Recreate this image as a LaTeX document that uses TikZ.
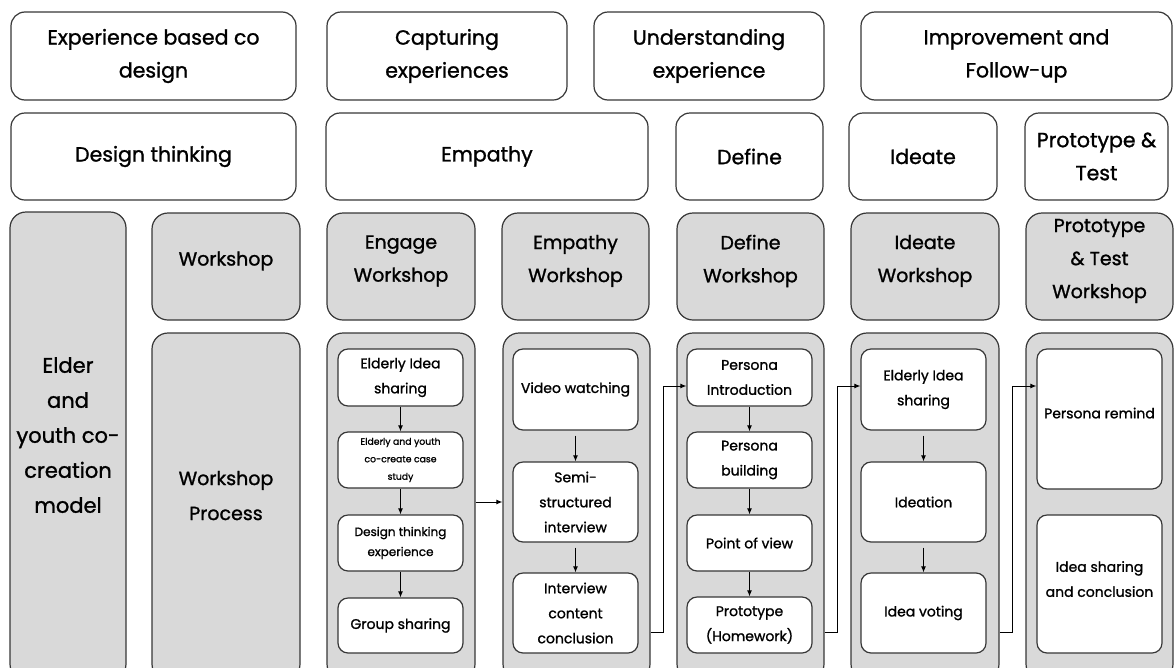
\documentclass[tikz,border=0pt]{standalone}
\usepackage{fontspec}
\setmainfont{Poppins}[FakeBold=1.2]
\usetikzlibrary{arrows.meta}

\definecolor{boxgray}{RGB}{217,217,217}
\definecolor{edgegray}{RGB}{55,55,55}

\tikzset{
  base/.style={draw=edgegray, line width=1.2pt, align=center, inner sep=1pt},
  topbox/.style={base, fill=white, rounded corners=14pt, font=\fontsize{20.5}{33}\selectfont},
  graybox/.style={base, fill=boxgray, rounded corners=16pt, font=\fontsize{19}{33}\selectfont},
  stepbox/.style={base, fill=white, rounded corners=10pt, minimum width=125, font=\fontsize{14}{25}\selectfont},
  flow/.style={black, line width=1pt, -{Latex[length=6pt,width=5pt]}},
}

\begin{document}
\begin{tikzpicture}[x=1pt, y=-1pt]
\useasboundingbox (0,0) rectangle (1174,667);

% top row: experience based co design
\node[topbox, minimum width=285, minimum height=88] (ebcd) at (153.5,56) {Experience based co\\design};
\node[topbox, minimum width=240, minimum height=88] (capt) at (447,56) {Capturing\\experiences};
\node[topbox, minimum width=230, minimum height=88] (unde) at (709,56) {Understanding\\experience};
\node[topbox, minimum width=311, minimum height=88] (impr) at (1016.5,56) {Improvement and\\Follow-up};

% second row: design thinking
\node[topbox, minimum width=285, minimum height=87] (dt) at (153.5,156.5) {Design thinking};
\node[topbox, minimum width=322, minimum height=87] (emp) at (487,156.5) {Empathy};
\node[topbox, minimum width=147, minimum height=87] (def) at (749.5,156.5) {Define};
\node[topbox, minimum width=148, minimum height=87] (ide) at (923,156.5) {Ideate};
\node[topbox, minimum width=143, minimum height=87] (pt) at (1096.5,156.5) {Prototype \&\\Test};

% co-creation model
\node[graybox, minimum width=116, minimum height=468, text depth=22pt,
      font=\fontsize{21}{35}\selectfont] (elder) at (68,446) {Elder\\and\\youth co-\\creation\\model};

% workshops
\begin{scope}[every node/.append style={text depth=16pt}]
\node[graybox, minimum width=148, minimum height=107] (ws) at (226,266.5) {Workshop};
\node[graybox, minimum width=148, minimum height=107] (ew) at (401,266.5) {Engage\\Workshop};
\node[graybox, minimum width=147, minimum height=107] (mw) at (575.5,266.5) {Empathy\\Workshop};
\node[graybox, minimum width=147, minimum height=107] (dw) at (750.5,266.5) {Define\\Workshop};
\node[graybox, minimum width=148, minimum height=107] (iw) at (925,266.5) {Ideate\\Workshop};
\node[graybox, minimum width=147, minimum height=107] (pw) at (1099.5,266.5) {Prototype\\\& Test\\Workshop};
\end{scope}

% workshop process
\node[graybox, minimum width=148, minimum height=347, text depth=22pt,
      font=\fontsize{19}{35}\selectfont] (wp) at (226,506.5) {Workshop\\Process};
\node[graybox, minimum width=148, minimum height=347] (ep) at (401,506.5) {};
\node[graybox, minimum width=147, minimum height=347] (mp) at (576.5,506.5) {};
\node[graybox, minimum width=147, minimum height=347] (dp) at (750.5,506.5) {};
\node[graybox, minimum width=148, minimum height=347] (ip) at (925,506.5) {};
\node[graybox, minimum width=147, minimum height=347] (pp) at (1099.5,506.5) {};

% engage steps
\node[stepbox, minimum height=57] (e1) at (400.5,377.5) {Elderly Idea\\sharing};
\node[stepbox, minimum height=56, font=\fontsize{9.3}{17.5}\selectfont] (e2) at (400.5,460) {Elderly and youth\\co-create case\\study};
\node[stepbox, minimum height=56, font=\fontsize{12}{20}\selectfont] (e3) at (400.5,543) {Design thinking\\experience};
\node[stepbox, minimum height=55] (e4) at (400.5,625.5) {Group sharing};

% empathy steps
\node[stepbox, minimum height=81] (m1) at (575.5,389.5) {Video watching};
\node[stepbox, minimum height=80] (m2) at (575.5,502) {Semi-\\structured\\interview};
\node[stepbox, minimum height=80] (m3) at (575.5,613) {Interview\\content\\conclusion};

% define steps
\node[stepbox, minimum height=57] (d1) at (749.5,377.5) {Persona\\Introduction};
\node[stepbox, minimum height=56] (d2) at (749.5,460) {Persona\\building};
\node[stepbox, minimum height=56] (d3) at (749.5,543) {Point of view};
\node[stepbox, minimum height=56] (d4) at (749.5,625) {Prototype\\(Homework)};

% ideate steps
\node[stepbox, minimum height=81] (i1) at (923.5,389.5) {Elderly Idea\\sharing};
\node[stepbox, minimum height=80] (i2) at (923.5,502) {Ideation};
\node[stepbox, minimum height=80] (i3) at (923.5,613) {Idea voting};

% prototype and test steps
\node[stepbox, minimum height=140, text depth=12pt] (p1) at (1099.5,419) {Persona remind};
\node[stepbox, minimum height=138, text depth=10pt] (p2) at (1099.5,584) {Idea sharing\\and conclusion};

% arrows inside the columns
\foreach \a/\b in {e1/e2, e2/e3, e3/e4, d1/d2, d2/d3, d3/d4}
  \draw[flow] (\a) -- (\b);
\foreach \a/\b in {m1/m2, m2/m3, i1/i2, i2/i3}
  \draw[flow, shorten <=5pt] (\a) -- (\b);

% arrows between the columns
\coordinate (j1a) at (663,632);
\coordinate (j1b) at (663,386);
\coordinate (j2a) at (837,632);
\coordinate (j2b) at (837,386);
\coordinate (j3a) at (1012,632);
\coordinate (j3b) at (1012,386);
\draw[flow] ([yshift=4.5pt]ep.east) -- ([yshift=4.5pt]mp.west);
\draw[flow] (mp.east |- j1a) -- (j1a) -- (j1b) -- (d1.west |- j1b);
\draw[flow] (dp.east |- j2a) -- (j2a) -- (j2b) -- (i1.west |- j2b);
\draw[flow] (ip.east |- j3a) -- (j3a) -- (j3b) -- (p1.west |- j3b);

\end{tikzpicture}
\end{document}
